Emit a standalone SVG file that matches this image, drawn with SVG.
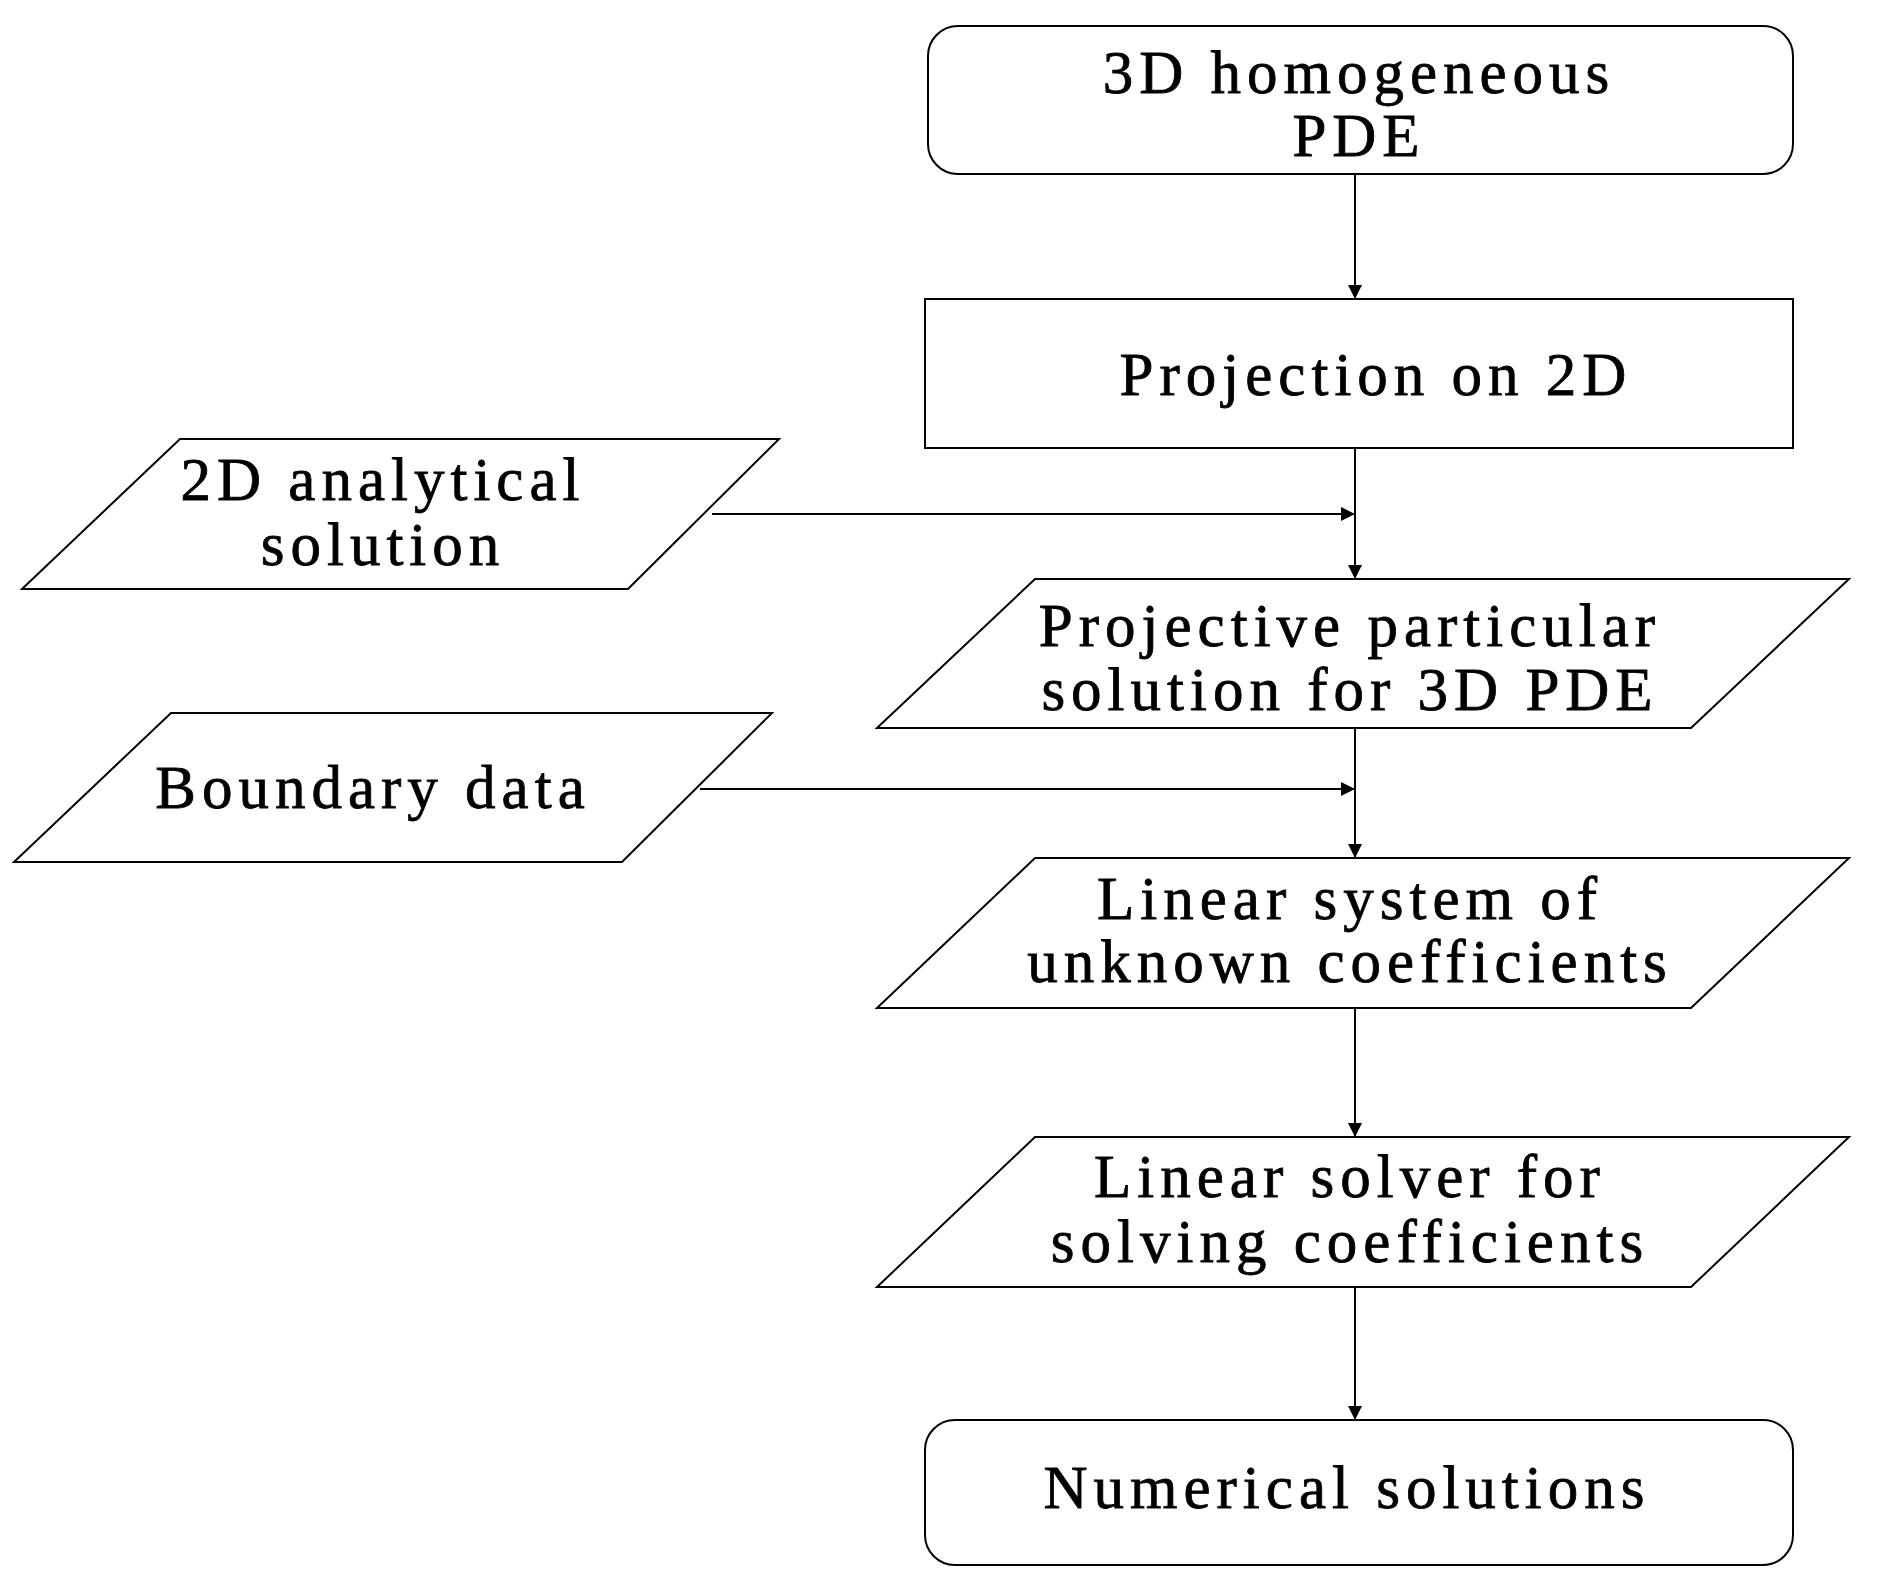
<svg xmlns="http://www.w3.org/2000/svg" width="1877" height="1590" viewBox="0 0 1877 1590">
<defs>
<marker id="ah" viewBox="0 0 10 10" refX="10" refY="5" markerWidth="14" markerHeight="14" markerUnits="userSpaceOnUse" orient="auto"><path d="M0,0 L10,5 L0,10 z" fill="#000"/></marker>
<style>
.s{fill:#fff;stroke:#000;stroke-width:2}
.t{font-family:"Liberation Serif","Times New Roman",serif;font-size:61px;letter-spacing:6px;text-anchor:middle;fill:#000;stroke:#000;stroke-width:0.8}
.c{stroke:#000;stroke-width:2;fill:none;marker-end:url(#ah)}
</style>
</defs>
<rect width="1877" height="1590" fill="#fff"/>
<g id="n1"><rect class="s" x="928" y="26" width="865" height="148" rx="30"/><text class="t" x="1359" y="93">3D homogeneous</text><text class="t" x="1359" y="156">PDE</text></g>
<g id="n2"><rect class="s" x="925" y="299" width="868" height="149"/><text class="t" x="1376" y="395">Projection on 2D</text></g>
<g id="n3"><polygon class="s" points="180,439 779,439 628,589 22,589"/><text class="t" x="383" y="500">2D analytical</text><text class="t" x="383" y="565">solution</text></g>
<g id="n4"><polygon class="s" points="1035,579 1849,579 1691,728 877,728"/><text class="t" x="1350" y="646">Projective particular</text><text class="t" x="1350" y="710">solution for 3D PDE</text></g>
<g id="n5"><polygon class="s" points="171,713 772,713 622,862 14,862"/><text class="t" x="373" y="808">Boundary data</text></g>
<g id="n6"><polygon class="s" points="1035,858 1849,858 1691,1008 877,1008"/><text class="t" x="1350" y="919">Linear system of</text><text class="t" x="1350" y="982">unknown coefficients</text></g>
<g id="n7"><polygon class="s" points="1035,1137 1849,1137 1691,1287 877,1287"/><text class="t" x="1350" y="1197">Linear solver for</text><text class="t" x="1350" y="1262">solving coefficients</text></g>
<g id="n8"><rect class="s" x="925" y="1420" width="868" height="145" rx="30"/><text class="t" x="1347" y="1508">Numerical solutions</text></g>
<g id="connectors">
<line class="c" x1="1355" y1="174" x2="1355" y2="299"/>
<line class="c" x1="1355" y1="448" x2="1355" y2="579"/>
<line class="c" x1="712" y1="514" x2="1355" y2="514"/>
<line class="c" x1="1355" y1="728" x2="1355" y2="858"/>
<line class="c" x1="700" y1="789" x2="1355" y2="789"/>
<line class="c" x1="1355" y1="1008" x2="1355" y2="1137"/>
<line class="c" x1="1355" y1="1287" x2="1355" y2="1420"/>
</g>
</svg>
